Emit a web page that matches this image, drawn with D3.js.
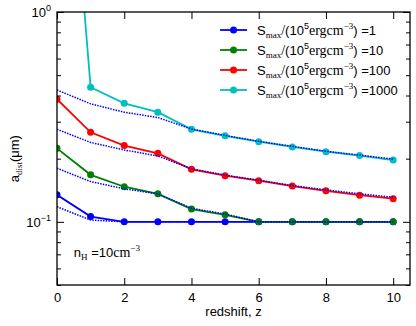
<!DOCTYPE html>
<html>
<head>
<meta charset="utf-8">
<title>a_dist vs redshift</title>
<script src="https://d3js.org/d3.v7.min.js"></script>
<style>
  body { margin: 0; background: #fff; }
  svg { font-family: "Liberation Sans", Arial, sans-serif; }
  .serif { font-family: "Liberation Serif", "DejaVu Serif", serif; }
  .axis path, .axis line { stroke: #000; }
</style>
</head>
<body>
<script>
// redshift grid
var redshift = [0, 1, 2, 3, 4, 5, 6, 7, 8, 9, 10];

// solid curves, one per S_max
var sLabels = ["1", "10", "100", "1000"];
var sColors = ["#0000ff", "#008000", "#ff0000", "#00bfbf"];
var aS1    = [0.1345, 0.106, 0.1, 0.1, 0.1, 0.1, 0.1, 0.1, 0.1, 0.1, 0.1];
var aS10   = [0.224, 0.1675, 0.147, 0.136, 0.115, 0.108, 0.1, 0.1, 0.1, 0.1, 0.1];
var aS100  = [0.384, 0.267, 0.231, 0.212, 0.178, 0.166, 0.157, 0.148, 0.1405, 0.134, 0.129];
var aS1000 = [40, 0.438, 0.367, 0.333, 0.276, 0.257, 0.241, 0.2275, 0.216, 0.207, 0.197];

// dotted reference curves
var dot1 = [0.118, 0.102, 0.1, 0.1, 0.1, 0.1, 0.1, 0.1, 0.1, 0.1, 0.1];
var dot2 = [0.18, 0.1556, 0.1436, 0.136, 0.116, 0.109, 0.1, 0.1, 0.1, 0.1, 0.1];
var dot3 = [0.276, 0.239, 0.22, 0.206, 0.179, 0.167, 0.158, 0.149, 0.142, 0.136, 0.131];
var dot4 = [0.425, 0.365, 0.333, 0.314, 0.277, 0.258, 0.242, 0.229, 0.217, 0.208, 0.199];

var xTicks = [0, 2, 4, 6, 8, 10];
var yMajor = [0.1, 1];
var yMinor = [0.05, 0.06, 0.07, 0.08, 0.09, 0.2, 0.3, 0.4, 0.5, 0.6, 0.7, 0.8, 0.9];

var W = 416, H = 326;
var margin = {top: 12, right: 6, bottom: 41, left: 57};
var width = W - margin.left - margin.right,
    height = H - margin.top - margin.bottom;

var svg = d3.select("body").append("svg")
    .attr("width", W).attr("height", H);

var g = svg.append("g")
    .attr("transform", "translate(" + margin.left + "," + margin.top + ")");

var x = d3.scaleLinear().domain([0, 10.5]).range([0, width]);
var y = d3.scaleLog().domain([0.05, 1]).range([height, 0]);

// clip for data
svg.append("defs").append("clipPath").attr("id", "clip")
  .append("rect").attr("width", width).attr("height", height);

var plot = g.append("g").attr("clip-path", "url(#clip)");

var line = d3.line()
    .x(function(d, i) { return x(redshift[i]); })
    .y(function(d) { return y(d); });

// solid series with markers
var series = [aS1, aS10, aS100, aS1000];
series.forEach(function(s, k) {
  plot.append("path")
      .attr("d", line(s))
      .attr("fill", "none")
      .attr("stroke", sColors[k])
      .attr("stroke-width", 1.8);
  plot.selectAll(".pt" + k)
      .data(s)
      .enter().append("circle")
      .attr("cx", function(d, i) { return x(redshift[i]); })
      .attr("cy", function(d) { return y(d); })
      .attr("r", 3.5)
      .attr("fill", sColors[k]);
});

// dotted blue lines
[dot1, dot2, dot3, dot4].forEach(function(s) {
  plot.append("path")
      .attr("d", line(s))
      .attr("fill", "none")
      .attr("stroke", "#0000ff")
      .attr("stroke-width", 1.5)
      .attr("stroke-dasharray", "1.5,1.2");
});

// axes (ticks inward)
g.append("g").attr("class", "axis")
  .attr("transform", "translate(0," + height + ")")
  .call(d3.axisBottom(x).tickValues(xTicks).tickSizeInner(-7).tickSizeOuter(0).tickPadding(8)
        .tickFormat(d3.format("d")))
  .call(function(a) { a.select(".domain").remove(); })
  .selectAll("text").attr("font-size", 13).attr("fill", "#000")
  .attr("font-family", "Liberation Sans, Arial, sans-serif");

g.append("g").attr("class", "axis")
  .call(d3.axisTop(x).tickValues(xTicks).tickSizeInner(-7).tickSizeOuter(0).tickFormat(""))
  .call(function(a) { a.select(".domain").remove(); });

[[d3.axisLeft, 0], [d3.axisRight, width]].forEach(function(p) {
  var ax = g.append("g").attr("class", "axis").attr("transform", "translate(" + p[1] + ",0)");
  ax.call(p[0](y).tickValues(yMajor).tickSizeInner(-7).tickSizeOuter(0).tickFormat(""))
    .call(function(a) { a.select(".domain").remove(); });
  var mn = g.append("g").attr("class", "axis").attr("transform", "translate(" + p[1] + ",0)");
  mn.call(p[0](y).tickValues(yMinor).tickSizeInner(-4).tickSizeOuter(0).tickFormat(""))
    .call(function(a) { a.select(".domain").remove(); });
});

// y tick labels with exponents
var yLab = [{v: 1, e: "0"}, {v: 0.1, e: "\u22121"}];
yLab.forEach(function(d) {
  var t = g.append("text")
      .attr("x", -6).attr("y", y(d.v) + 5)
      .attr("text-anchor", "end")
      .attr("font-size", 13);
  t.append("tspan").text("10");
  t.append("tspan").attr("font-size", 9).attr("dy", -6).text(d.e);
});

// frame
g.append("rect")
  .attr("width", width).attr("height", height)
  .attr("fill", "none").attr("stroke", "#000").attr("stroke-width", 1.3);

// axis labels
g.append("text")
  .attr("x", width / 2).attr("y", height + 31)
  .attr("text-anchor", "middle").attr("font-size", 13)
  .text("redshift, z");

var yl = svg.append("text")
  .attr("transform", "translate(19," + (margin.top + y(0.2)) + ") rotate(-90)")
  .attr("text-anchor", "middle").attr("font-size", 13);
yl.append("tspan").text("a");
yl.append("tspan").attr("class", "serif").attr("font-size", 9).attr("dy", 3).text("dist");
yl.append("tspan").attr("dy", -3).text("(\u03bcm)");

// n_H annotation
var ann = g.append("text")
  .attr("x", x(0.5)).attr("y", y(0.068))
  .attr("font-size", 13);
ann.append("tspan").text("n");
ann.append("tspan").attr("class", "serif").attr("font-size", 9).attr("dy", 3).text("H");
ann.append("tspan").attr("dy", -3).text(" =10");
ann.append("tspan").attr("class", "serif").attr("font-size", 14).text("cm");
ann.append("tspan").attr("class", "serif").attr("font-size", 9).attr("dy", -6).text("\u22123");

// legend
var leg = g.append("g").attr("transform", "translate(" + (x(4.85)) + ",18)");
sLabels.forEach(function(lab, k) {
  var row = leg.append("g").attr("transform", "translate(0," + (k * 20) + ")");
  row.append("line").attr("x1", 0).attr("x2", 27)
     .attr("stroke", sColors[k]).attr("stroke-width", 1.8);
  row.append("circle").attr("cx", 13.5).attr("r", 3.5).attr("fill", sColors[k]);
  var t = row.append("text").attr("x", 37).attr("y", 5).attr("font-size", 13);
  t.append("tspan").text("S");
  t.append("tspan").attr("class", "serif").attr("font-size", 9).attr("dy", 3).text("max");
  t.append("tspan").attr("class", "serif").attr("font-size", 14).attr("dy", -3).text("/");
  t.append("tspan").text("(10");
  t.append("tspan").attr("font-size", 9).attr("dy", -6).text("5");
  t.append("tspan").attr("class", "serif").attr("font-size", 14).attr("dy", 6).text("ergcm");
  t.append("tspan").attr("class", "serif").attr("font-size", 9).attr("dy", -6).text("\u22123");
  t.append("tspan").attr("dy", 6).text(") =" + lab);
});
</script>
</body>
</html>
